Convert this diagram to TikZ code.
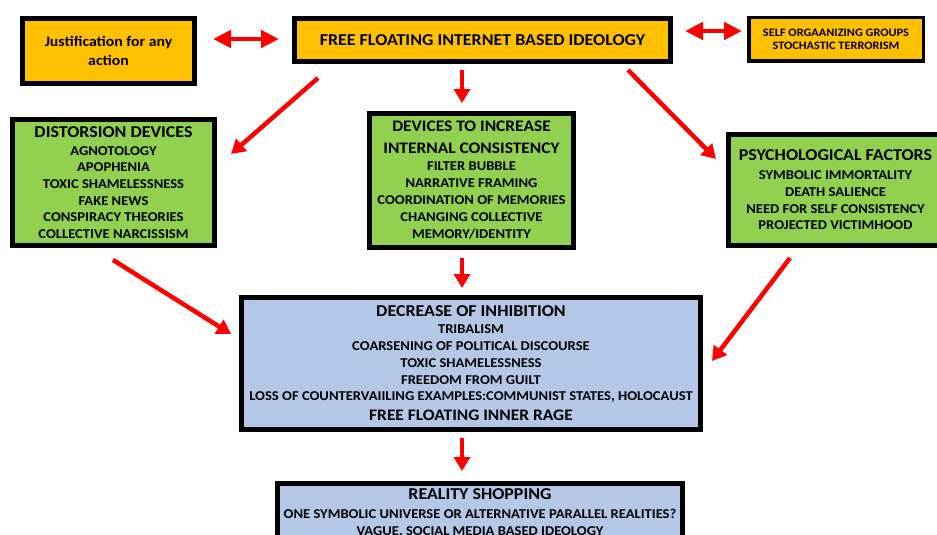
\documentclass[tikz,border=0pt]{standalone}
\usepackage{fontspec}
\setmainfont{Carlito}[FakeStretch=1.08]
\usetikzlibrary{arrows.meta}
\definecolor{boxorange}{HTML}{FFC000}
\definecolor{boxgreen}{HTML}{92D050}
\definecolor{boxblue}{HTML}{B4C7E7}
\definecolor{arrred}{HTML}{FF0000}
\newcommand\fsz[2]{\fontsize{#1}{#2}\selectfont}
\begin{document}
\begin{tikzpicture}[x=1pt,y=-1pt,
  box/.style={draw=black, line width=5pt, align=center, inner sep=0pt,
    font=\bfseries\fsz{13.5}{16.7}},
  orangebox/.style={box, fill=boxorange},
  greenbox/.style={box, fill=boxgreen},
  bluebox/.style={box, fill=boxblue},
  redarr/.style={draw=arrred, line width=4.5pt, -{Triangle[width=16pt,length=14pt]}},
  redboth/.style={draw=arrred, line width=4.5pt,
    {Triangle[width=17pt,length=18pt]}-{Triangle[width=17pt,length=18pt]}},
]
\clip (0,0) rectangle (937,535);
\fill[white] (0,0) rectangle (937,535);

% top row
\node[orangebox, minimum width=172pt, minimum height=65pt, font=\bfseries\fsz{14.6}{19}]
  (just) at (108.5,51) {Justification for any\\action};
\node[orangebox, minimum width=376pt, minimum height=43pt, font=\bfseries\fsz{16.6}{19}]
  (main) at (482.5,40) {FREE FLOATING INTERNET BASED IDEOLOGY};
\node[orangebox, line width=3.5pt, minimum width=174.5pt, minimum height=43.5pt,
  font=\bfseries\fsz{11.4}{13.5}]
  (self) at (836,39.5) {SELF ORGAANIZING GROUPS\\STOCHASTIC TERRORISM};

% middle row
\node[greenbox, minimum width=202pt, minimum height=126pt] (dist) at (113.5,182.5)
  {{\fsz{16.6}{16.7}DISTORSION DEVICES}\\[1.3pt]
   AGNOTOLOGY\\APOPHENIA\\TOXIC SHAMELESSNESS\\FAKE NEWS\\
   CONSPIRACY THEORIES\\COLLECTIVE NARCISSISM};
\node[greenbox, minimum width=204pt, minimum height=134pt,
  font=\bfseries\fsz{13.5}{17}] (dev) at (471.5,180)
  {{\fsz{16.1}{17}DEVICES TO INCREASE}\\[5pt]
   {\fsz{16.1}{17}INTERNAL CONSISTENCY}\\
   FILTER BUBBLE\\NARRATIVE FRAMING\\COORDINATION OF MEMORIES\\
   CHANGING COLLECTIVE\\MEMORY/IDENTITY};
\node[greenbox, minimum width=214pt, minimum height=111pt] (psy) at (835.5,190)
  {{\fsz{16.6}{16.7}PSYCHOLOGICAL FACTORS}\\[2.3pt]
   SYMBOLIC IMMORTALITY\\DEATH SALIENCE\\NEED FOR SELF CONSISTENCY\\
   PROJECTED VICTIMHOOD};

% lower boxes
\node[bluebox, minimum width=459pt, minimum height=132pt] (dec) at (471,363)
  {{\fsz{16.6}{16.7}DECREASE OF INHIBITION}\\[1pt]
   TRIBALISM\\COARSENING OF POLITICAL DISCOURSE\\TOXIC SHAMELESSNESS\\
   FREEDOM FROM GUILT\\
   LOSS OF COUNTERVAIILING EXAMPLES:COMMUNIST STATES, HOLOCAUST\\[3pt]
   {\fsz{16.1}{16.7}FREE FLOATING INNER RAGE}};
\node[bluebox, anchor=north, minimum width=405pt, inner ysep=6pt] (real) at (480,480.5)
  {{\fsz{16.6}{17}REALITY SHOPPING}\\[2pt]
   ONE SYMBOLIC UNIVERSE OR ALTERNATIVE PARALLEL REALITIES?\\
   VAGUE, SOCIAL MEDIA BASED IDEOLOGY\\ \strut};

% arrow end points
\coordinate (jr) at (213,39);
\coordinate (ml) at (279,39);
\coordinate (mr) at (685,31);
\coordinate (sl) at (742,31);
\coordinate (m1) at (462,70);
\coordinate (d1) at (462,103);
\coordinate (m2) at (318,78);
\coordinate (t2) at (231,154);
\coordinate (m3) at (628,70);
\coordinate (t3) at (716,159);
\coordinate (d2) at (462,258);
\coordinate (c2) at (462,288);
\coordinate (s4) at (113,260);
\coordinate (t4) at (231,334);
\coordinate (s5) at (790,258);
\coordinate (t5) at (712,361);
\coordinate (c3) at (462,438);
\coordinate (r3) at (462,471);

% connectors
\draw[redboth] (jr) -- (ml);
\draw[redboth] (mr) -- (sl);
\draw[redarr] (m1) -- (d1);
\draw[redarr] (m2) -- (t2);
\draw[redarr] (m3) -- (t3);
\draw[redarr] (d2) -- (c2);
\draw[redarr] (s4) -- (t4);
\draw[redarr] (s5) -- (t5);
\draw[redarr] (c3) -- (r3);
\end{tikzpicture}
\end{document}
